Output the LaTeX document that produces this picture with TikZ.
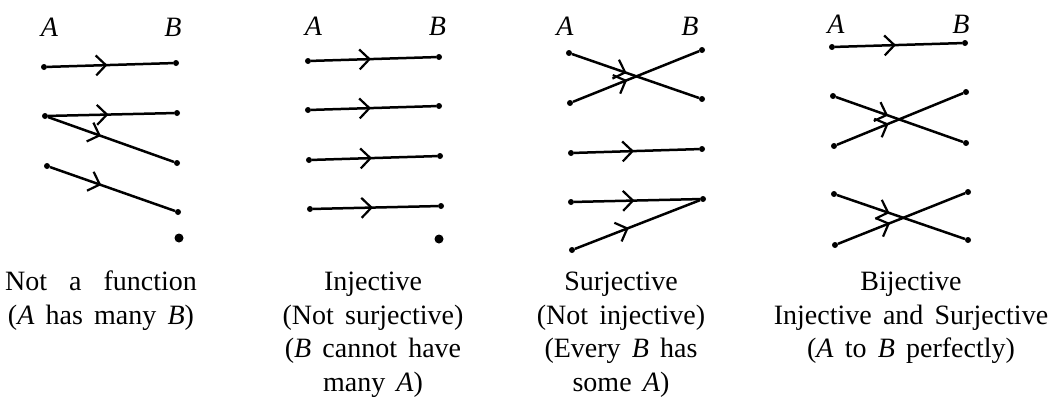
\documentclass[tikz,border=0pt]{standalone}
\usepackage{fontspec}
\setmainfont{Liberation Serif}
\usetikzlibrary{arrows.meta,decorations.markings}
\newcommand{\capfont}{\fontsize{28}{33.5}\selectfont\spaceskip=0.4em\relax}
\tikzset{
  dot/.style={circle,fill=black,inner sep=0pt,minimum size=6pt},
  bigdot/.style={circle,fill=black,inner sep=0pt,minimum size=9pt},
  mapline/.style={line width=2.5pt},
  midarrow/.style={postaction={decorate,decoration={markings,
     mark=at position #1 with {\arrow{Straight Barb[length=10pt,width=20pt,line width=2.2pt]}}}}},
  setlabel/.style={font=\fontsize{28}{30}\selectfont\itshape,inner sep=0pt,anchor=base},
  caption/.style={font=\capfont,align=center,anchor=base,inner sep=0pt}
}
\begin{document}
\begin{tikzpicture}[x=1pt,y=-1pt]
\useasboundingbox (0,0) rectangle (1056,407);
% ---------- Panel 1: Not a function ----------
\node[setlabel] (l1a) at (49.5,36) {A};
\node[setlabel] (l1b) at (173,36) {B};
\node[dot] (p1a1) at (44,67) {};
\node[dot] (p1a2) at (45,116) {};
\node[dot] (p1a3) at (47,166) {};
\node[dot] (p1b1) at (176,63) {};
\node[dot] (p1b2) at (177,113) {};
\node[dot] (p1b3) at (177,163) {};
\node[dot] (p1b4) at (178,212) {};
\node[bigdot] (p1b5) at (179,238) {};
\draw[mapline,midarrow=0.48] (p1a1) -- (p1b1);
\draw[mapline,midarrow=0.48] (p1a2) -- (p1b2);
\draw[mapline,midarrow=0.42] (p1a2) -- (p1b3);
\draw[mapline,midarrow=0.41] (p1a3) -- (p1b4);
\node[caption] (c1) at (101,324) {Not\hspace{22pt}a\hspace{22pt}function\\(\textit{A} has many \textit{B})};
% ---------- Panel 2: Injective ----------
\node[setlabel] (l2a) at (313.5,35) {A};
\node[setlabel] (l2b) at (437.5,35) {B};
\node[dot] (p2a1) at (308,61) {};
\node[dot] (p2a2) at (308,110) {};
\node[dot] (p2a3) at (309,160) {};
\node[dot] (p2a4) at (310,209) {};
\node[dot] (p2b1) at (439,57) {};
\node[dot] (p2b2) at (439,106) {};
\node[dot] (p2b3) at (440,156) {};
\node[dot] (p2b4) at (441,206) {};
\node[bigdot] (p2b5) at (439,239) {};
\draw[mapline,midarrow=0.48] (p2a1) -- (p2b1);
\draw[mapline,midarrow=0.48] (p2a2) -- (p2b2);
\draw[mapline,midarrow=0.48] (p2a3) -- (p2b3);
\draw[mapline,midarrow=0.48] (p2a4) -- (p2b4);
\node[caption] (c2) at (373,391) {Injective\\(Not surjective)\\(\textit{B} cannot have\\many \textit{A})};
% ---------- Panel 3: Surjective ----------
\node[setlabel] (l3a) at (565,35) {A};
\node[setlabel] (l3b) at (690,35) {B};
\node[dot] (p3a1) at (569,53) {};
\node[dot] (p3a2) at (570,103) {};
\node[dot] (p3a3) at (571,153) {};
\node[dot] (p3a4) at (571,202) {};
\node[dot] (p3a5) at (572,250) {};
\node[dot] (p3b1) at (702,50) {};
\node[dot] (p3b2) at (702,99) {};
\node[dot] (p3b3) at (702,149) {};
\node[dot] (p3b4) at (703,199) {};
\draw[mapline,midarrow=0.43] (p3a1) -- (p3b2);
\draw[mapline,midarrow=0.43] (p3a2) -- (p3b1);
\draw[mapline,midarrow=0.48] (p3a3) -- (p3b3);
\draw[mapline,midarrow=0.48] (p3a4) -- (p3b4);
\draw[mapline,midarrow=0.43] (p3a5) -- (p3b4);
\node[caption] (c3) at (621,391) {Surjective\\(Not injective)\\(Every \textit{B} has\\some \textit{A})};
% ---------- Panel 4: Bijective ----------
\node[setlabel] (l4a) at (836,33) {A};
\node[setlabel] (l4b) at (961,33) {B};
\node[dot] (p4a1) at (832,47) {};
\node[dot] (p4a2) at (833,96) {};
\node[dot] (p4a3) at (834,146) {};
\node[dot] (p4a4) at (834,194) {};
\node[dot] (p4a5) at (835,245) {};
\node[dot] (p4b1) at (965,43) {};
\node[dot] (p4b2) at (966,92) {};
\node[dot] (p4b3) at (966,143) {};
\node[dot] (p4b4) at (968,192) {};
\node[dot] (p4b5) at (968,240) {};
\draw[mapline,midarrow=0.48] (p4a1) -- (p4b1);
\draw[mapline,midarrow=0.41] (p4a2) -- (p4b3);
\draw[mapline,midarrow=0.41] (p4a3) -- (p4b2);
\draw[mapline,midarrow=0.41] (p4a4) -- (p4b5);
\draw[mapline,midarrow=0.41] (p4a5) -- (p4b4);
\node[caption] (c4) at (911,357.5) {Bijective\\Injective and Surjective\\(\textit{A} to \textit{B} perfectly)};
\end{tikzpicture}
\end{document}
